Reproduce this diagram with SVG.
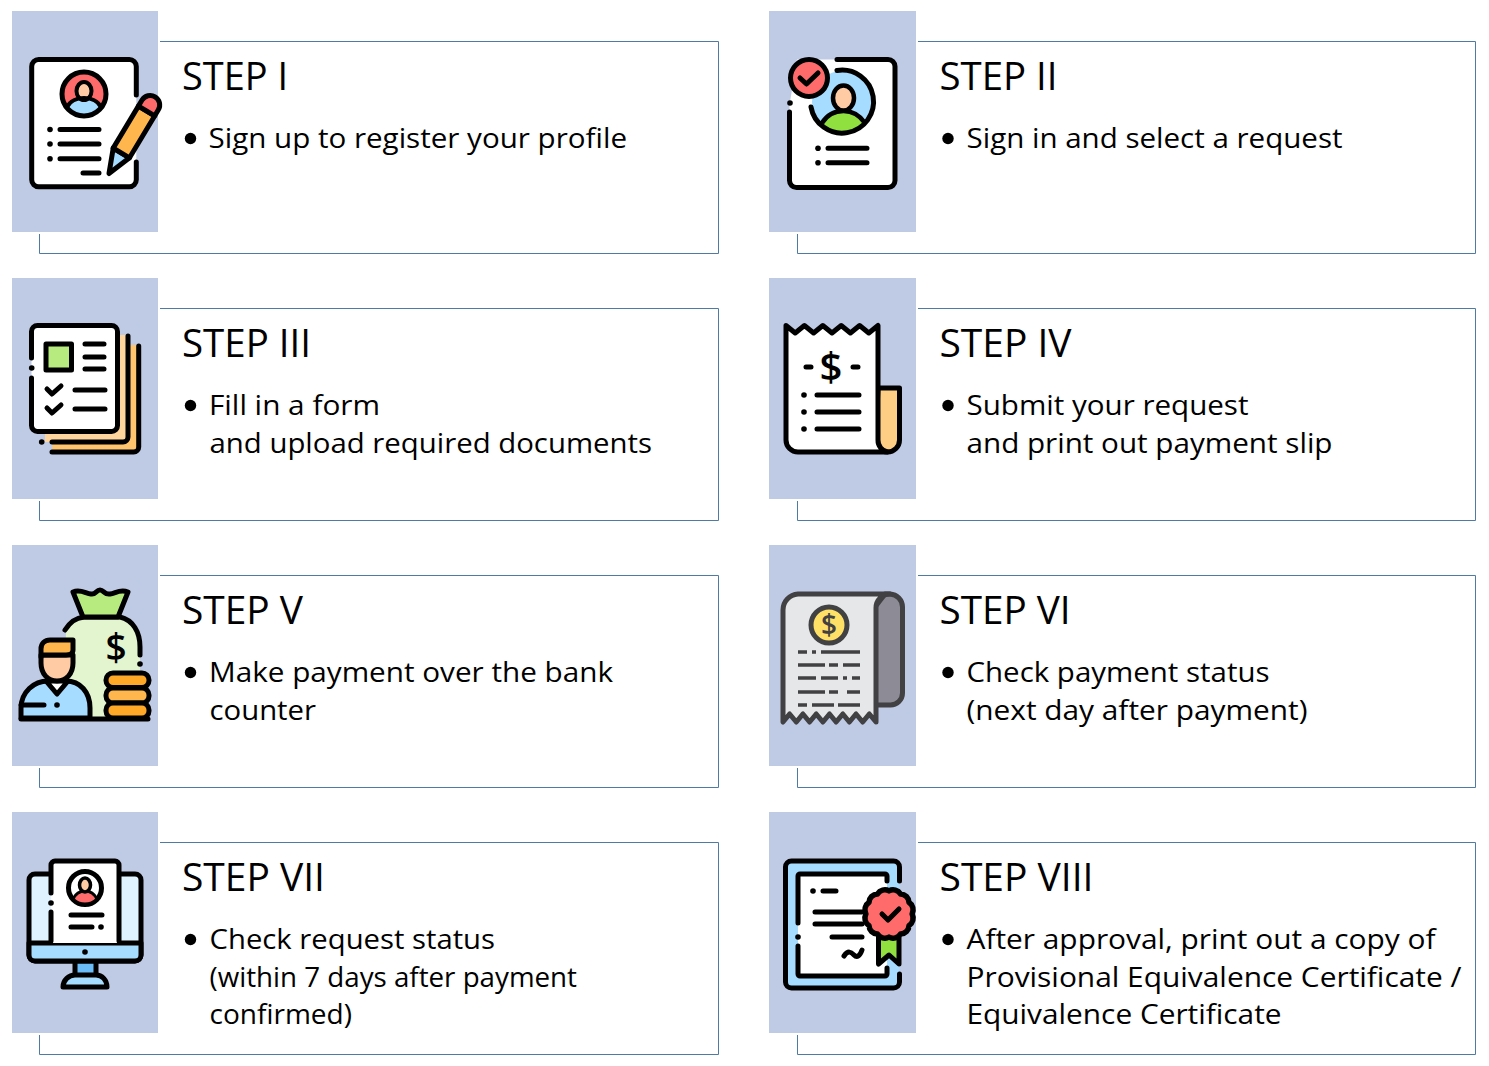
<svg xmlns="http://www.w3.org/2000/svg" width="1489" height="1066" viewBox="0 0 1489 1066">
<style>
text{font-family:"Open Sans","Noto Sans","Liberation Sans",sans-serif;fill:#000}
.t{font-size:38px}
.b{font-size:28px}
.band{fill:#BFCAE4}
.card{fill:none;stroke:#4F7AA3;stroke-width:1}
.dot{fill:#000}
.k{fill:none;stroke:#000;stroke-width:5;stroke-linecap:round;stroke-linejoin:round}
.f{stroke:#000;stroke-width:5;stroke-linecap:round;stroke-linejoin:round}
.g{stroke:#414042;stroke-width:5;stroke-linecap:round;stroke-linejoin:round}
.gl{fill:none;stroke:#414042;stroke-width:3.6}
.ds{font-family:"Open Sans","Liberation Sans",sans-serif;font-weight:600;text-anchor:middle}
</style>
<defs>
<path id="cardL" class="card" d="M160 41.5H718.5V253.5H39.5V234"/>
<path id="cardR" class="card" d="M918 41.5H1475.5V253.5H797.5V234"/>
<rect id="bandL" class="band" x="12" y="11" width="146" height="221"/>
<rect id="bandR" class="band" x="769" y="11" width="147" height="221"/>
<circle id="bul" r="5.7" class="dot"/>
</defs>

<g id="step-1">
<use href="#cardL"/><use href="#bandL"/>
<rect x="31.7" y="59.5" width="104.6" height="127.2" rx="7" fill="#fff"/>
<path class="k" d="M136.3 95V66.5a7 7 0 0 0-7-7H38.7a7 7 0 0 0-7 7V179.7a7 7 0 0 0 7 7H129.3a7 7 0 0 0 7-7V162"/>
<circle cx="84" cy="94" r="22" fill="#FF6B6B"/>
<path d="M66 107c4-7 11-10 18-10s14 3 18 10c-4 6-11 9-18 9s-14-3-18-9z" fill="#A6DCFF"/>
<ellipse cx="84" cy="91" rx="7.5" ry="9" fill="#FFCBA4" stroke="#000" stroke-width="4"/>
<path d="M67 107c3-6 10-9 17-9s14 3 17 9" fill="none" stroke="#000" stroke-width="4"/>
<circle cx="84" cy="94" r="22" class="k"/>
<path class="k" d="M60 129.5H99M60 144H99M60 158.7H99M83 173H99"/>
<circle class="dot" cx="50" cy="129.5" r="2.8"/><circle class="dot" cx="50" cy="144" r="2.8"/><circle class="dot" cx="50" cy="158.7" r="2.8"/>
<g transform="translate(109 173.5) rotate(31)">
<path class="f" fill="#A6DCFF" d="M0 0L-9.5-24H9.5z"/>
<rect class="f" x="-9.5" y="-73" width="19" height="49" fill="#FFB74D"/>
<path class="f" fill="#FF6B6B" d="M-9.5-73V-80a9.5 9.5 0 0 1 19 0V-73z"/>
</g>
<text class="t" x="182" y="90" textLength="106" lengthAdjust="spacingAndGlyphs">STEP I</text>
<use href="#bul" x="190.5" y="138.5"/>
<text class="b" x="208.5" y="148" textLength="418.5" lengthAdjust="spacingAndGlyphs">Sign up to register your profile</text>
</g>

<g id="step-2">
<use href="#cardR"/><use href="#bandR"/>
<path d="M797 59.5H888a7 7 0 0 1 7 7V180.5a7 7 0 0 1-7 7H796.5a7 7 0 0 1-7-7V105z" fill="#fff"/>
<path class="k" d="M837 59.5H888a7 7 0 0 1 7 7V180.5a7 7 0 0 1-7 7H796.5a7 7 0 0 1-7-7V112"/>
<circle class="dot" cx="790" cy="103" r="2.8"/>
<circle cx="843.5" cy="102" r="31.5" fill="#A6DCFF"/>
<path d="M822 125c4-9 12-14 21.500-14s17 5 21.500 14c-5 5-13 8-21.500 8s-16-3-21.500-8z" fill="#90E040"/>
<path d="M822 123c5-8 12-12 21.500-12s16 4 21.500 12" fill="none" stroke="#000" stroke-width="4.500"/>
<ellipse cx="843.5" cy="98" rx="10.500" ry="12.500" fill="#FFCBA4" stroke="#000" stroke-width="4.500"/>
<path class="k" d="M837 70.500A31.500 31.500 0 1 1 811 107"/>
<circle cx="809" cy="78" r="18.500" fill="#FF6B6B" class="f"/>
<path class="k" d="M800 78l6.500 6L818 73"/>
<path class="k" d="M828 148.300H867M828 162.700H867"/>
<circle class="dot" cx="818" cy="148.300" r="2.800"/><circle class="dot" cx="818" cy="162.700" r="2.800"/>
<text class="t" x="939.500" y="90" textLength="118" lengthAdjust="spacingAndGlyphs">STEP II</text>
<use href="#bul" x="948" y="138.500"/>
<text class="b" x="966.500" y="148" textLength="376" lengthAdjust="spacingAndGlyphs">Sign in and select a request</text>
</g>

<g id="step-3">
<use href="#cardL" y="267"/><use href="#bandL" y="267"/>
<path d="M60 345H138.700V452H52z" fill="#FFC56E"/>
<path class="k" d="M138.700 346V447a5 5 0 0 1-5 5H52"/>
<path d="M45 335H128V442H45z" fill="#FFD59E"/>
<path class="k" d="M128 336V437a5 5 0 0 1-5 5H52"/>
<circle class="dot" cx="41.700" cy="442" r="2.800"/>
<rect x="31.500" y="325.500" width="86" height="106" rx="6" fill="#fff"/>
<path class="k" d="M31.500 358V331.500a6 6 0 0 1 6-6H111.500a6 6 0 0 1 6 6V425.500a6 6 0 0 1-6 6H37.500a6 6 0 0 1-6-6V378"/>
<circle class="dot" cx="31.700" cy="368" r="2.800"/>
<rect class="f" x="46" y="344" width="25.500" height="26" fill="#B8EB7F"/>
<path class="k" d="M85 344H104M85 357H104M85 369H104M75 390H105M75 409H105M47 389l5 5 9-8M47 408l5 5 9-8"/>
<text class="t" x="182" y="357" textLength="129" lengthAdjust="spacingAndGlyphs">STEP III</text>
<use href="#bul" x="190.500" y="405.500"/>
<text class="b" x="209" y="415" textLength="171" lengthAdjust="spacingAndGlyphs">Fill in a form</text>
<text class="b" x="209.500" y="453" textLength="442.500" lengthAdjust="spacingAndGlyphs">and upload required documents</text>
</g>

<g id="step-4">
<use href="#cardR" y="267"/><use href="#bandR" y="267"/>
<path class="f" fill="#FFCE85" d="M878 388H899.500V440a12 12 0 0 1-24 0z"/>
<path class="k" style="fill:#fff" d="M786 325.500L795.200 333 804.400 325.500 813.600 333 822.800 325.500 832 333 841.200 325.500 850.400 333 859.600 325.500 868.800 333 878 325.500V440a12 12 0 0 0 9.500 12H798a12 12 0 0 1-12-12z"/>
<path class="k" d="M806 367H811M853 367H858M817 395H859M817 412H859M817 429H859"/>
<circle class="dot" cx="804" cy="395" r="2.800"/><circle class="dot" cx="804" cy="412" r="2.800"/><circle class="dot" cx="804" cy="429" r="2.800"/>
<text class="ds" x="831" y="381" font-size="40">$</text>
<text class="t" x="939.500" y="357" textLength="132" lengthAdjust="spacingAndGlyphs">STEP IV</text>
<use href="#bul" x="948" y="405.500"/>
<text class="b" x="966.500" y="415" textLength="282" lengthAdjust="spacingAndGlyphs">Submit your request</text>
<text class="b" x="966.500" y="453" textLength="366" lengthAdjust="spacingAndGlyphs">and print out payment slip</text>
</g>

<g id="step-5">
<use href="#cardL" y="534"/><use href="#bandL" y="534"/>
<path d="M66 630C70 622 75 618 84 617H120C133 620 140 632 140 647V717H64z" fill="#E2F5CF"/>
<path class="k" d="M65 630C70 622 75 618 84 617H120C133 620 140 632 140 647V655"/>
<circle class="dot" cx="140" cy="664" r="2.800"/>
<path class="f" fill="#B8EB7F" d="M73 592C80 589 85 593 91 594 96 595 96 590 100 590 104 590 104 595 110 594 116 593 120 589 128 592L118 617H83z"/>
<text class="ds" x="116" y="661" font-size="37">$</text>
<rect class="f" x="106" y="673" width="43" height="14.500" rx="7" fill="#FFA726"/>
<rect class="f" x="106" y="688" width="43" height="15" rx="7" fill="#FFB74D"/>
<rect class="f" x="106" y="703" width="43" height="15" rx="7" fill="#FFA726"/>
<path class="f" fill="#A6DCFF" d="M21 718V708C21 692 34 681 48 681H66C80 681 90 692 90 708V718z"/>
<path fill="#fff" stroke="#000" stroke-width="5" stroke-linejoin="round" d="M46 681L57 694 68 681z"/>
<path class="f" fill="#FFCBA4" d="M41 655V663C41 674 48 681 57 681 66 681 73 674 73 663V655z"/>
<path class="f" fill="#FFB74D" d="M41 657V649C41 643 45 640 50 640H73V650C73 653 70 655 66 655H41z"/>
<path class="k" d="M21 705H44M21 719H148"/>
<circle class="dot" cx="57" cy="705" r="2.800"/>
<text class="t" x="182" y="624" textLength="121" lengthAdjust="spacingAndGlyphs">STEP V</text>
<use href="#bul" x="190.500" y="672.500"/>
<text class="b" x="209" y="682" textLength="404" lengthAdjust="spacingAndGlyphs">Make payment over the bank</text>
<text class="b" x="209.500" y="720" textLength="106.500" lengthAdjust="spacingAndGlyphs">counter</text>
</g>

<g id="step-6">
<use href="#cardR" y="534"/><use href="#bandR" y="534"/>
<path class="g" fill="#8C8B96" d="M885 594H890A13 13 0 0 1 902.500 607V693A12 12 0 0 1 890 705H875V607z"/>
<path class="g" fill="#E6E7E8" d="M783 722V610A16 16 0 0 1 798 594H890A14 14 0 0 0 876 608V722L869.300 714 862.700 722 856 714 849.400 722 842.800 714 836.100 722 829.500 714 822.900 722 816.200 714 809.600 722 802.900 714 796.300 722 789.600 714z"/>
<circle class="g" cx="829" cy="625" r="18" fill="#FFE066"/>
<text class="ds" x="829" y="635" font-size="28" style="fill:#414042">$</text>
<path class="gl" d="M798 652h9M812 652h4M821 652h39M798 665h27M829 665h9M843 665h17M798 678h18M821 678h17M843 678h4M852 678h8M798 692h27M829 692h9M847 692h13M798 705h9M812 705h22M838 705h22"/>
<text class="t" x="939.500" y="624" textLength="131" lengthAdjust="spacingAndGlyphs">STEP VI</text>
<use href="#bul" x="948" y="672.500"/>
<text class="b" x="966.500" y="682" textLength="303" lengthAdjust="spacingAndGlyphs">Check payment status</text>
<text class="b" x="966.500" y="720" textLength="341" lengthAdjust="spacingAndGlyphs">(next day after payment)</text>
</g>

<g id="step-7">
<use href="#cardL" y="801"/><use href="#bandL" y="801"/>
<path class="f" d="M75 960H96V978H75z" style="fill:#6BBDF9"/>
<path class="f" fill="#A6DCFF" d="M63 987C63 980 69 975 75 975H96C102 975 107 980 107 987z"/>
<rect class="f" x="29" y="874" width="112" height="87" rx="6" fill="#DFF2FF"/>
<path class="f" fill="#A6DCFF" d="M29 943H141V955A6 6 0 0 1 135 961H35A6 6 0 0 1 29 955z"/>
<path d="M51 943V861H119V943z" fill="#fff"/>
<path class="k" d="M51 893V865A4 4 0 0 1 55 861H115A4 4 0 0 1 119 865V941M51 912V941"/>
<circle class="dot" cx="51" cy="903" r="2.800"/>
<circle cx="85" cy="888" r="16.500" fill="#fff" stroke="#000" stroke-width="5"/>
<path d="M73 899C76 893 80 891 85 891S94 893 97 899C94 902 90 904 85 904S76 902 73 899z" fill="#FF6B6B" stroke="#000" stroke-width="3"/>
<ellipse cx="85" cy="885" rx="5.500" ry="7" fill="#FFCBA4" stroke="#000" stroke-width="3.500"/>
<path class="k" d="M71 915H102M71 927H92"/>
<circle class="dot" cx="101" cy="927" r="2.800"/><circle class="dot" cx="85" cy="952" r="2.800"/>
<text class="t" x="182" y="891" textLength="143" lengthAdjust="spacingAndGlyphs">STEP VII</text>
<use href="#bul" x="190.500" y="939.500"/>
<text class="b" x="209.500" y="949" textLength="285.500" lengthAdjust="spacingAndGlyphs">Check request status</text>
<text class="b" x="209.500" y="987" textLength="367.500" lengthAdjust="spacingAndGlyphs">(within 7 days after payment</text>
<text class="b" x="209.500" y="1024" textLength="142.500" lengthAdjust="spacingAndGlyphs">confirmed)</text>
</g>

<g id="step-8">
<use href="#cardR" y="801"/><use href="#bandR" y="801"/>
<rect x="785.500" y="861" width="114" height="127" rx="6" fill="#A6DCFF"/>
<path class="k" d="M899.500 881V867A6 6 0 0 0 893.500 861H791.500A6 6 0 0 0 785.500 867V982A6 6 0 0 0 791.500 988H893.500A6 6 0 0 0 899.500 982V974"/>
<path d="M798 874H887V976H798z" fill="#fff"/>
<path class="k" d="M887 881V876A2 2 0 0 0 885 874H800A2 2 0 0 0 798 876V923M798 946V974A2 2 0 0 0 800 976H885A2 2 0 0 0 887 974V968"/>
<circle class="dot" cx="798" cy="937" r="2.800"/><circle class="dot" cx="813" cy="891" r="2.800"/>
<path class="k" d="M823 891H836M815 912H862M815 924H862M832 937H862M844 956C848 950 851 952 854 955S860 956 862 950"/>
<path class="f" fill="#90E040" d="M878.500 936H899V964L889 955 878.500 964z"/>
<path class="f" fill="#FF6B6B" transform="translate(889 914) scale(1.1)" stroke-width="4.500" d="M21 0A8 8 0 0 1 18.190 10.500A8 8 0 0 1 10.500 18.190A8 8 0 0 1 0 21A8 8 0 0 1-10.500 18.190A8 8 0 0 1-18.190 10.500A8 8 0 0 1-21 0A8 8 0 0 1-18.190-10.500A8 8 0 0 1-10.500-18.190A8 8 0 0 1 0-21A8 8 0 0 1 10.500-18.190A8 8 0 0 1 18.190-10.500A8 8 0 0 1 21 0z"/>
<path class="k" d="M882 914l6 6 11-11"/>
<text class="t" x="939.500" y="891" textLength="154" lengthAdjust="spacingAndGlyphs">STEP VIII</text>
<use href="#bul" x="948" y="939.500"/>
<text class="b" x="966.500" y="949" textLength="469" lengthAdjust="spacingAndGlyphs">After approval, print out a copy of</text>
<text class="b" x="966.500" y="987" textLength="495" lengthAdjust="spacingAndGlyphs">Provisional Equivalence Certificate /</text>
<text class="b" x="966.500" y="1024" textLength="315" lengthAdjust="spacingAndGlyphs">Equivalence Certificate</text>
</g>
</svg>
